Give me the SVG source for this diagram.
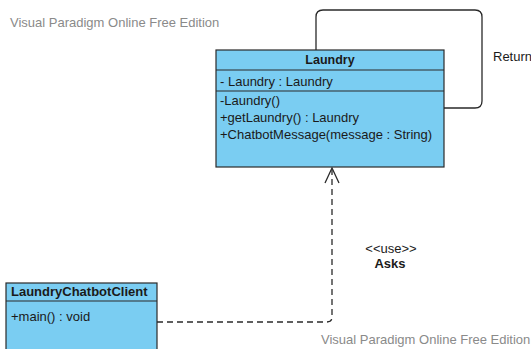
<svg xmlns="http://www.w3.org/2000/svg" width="531" height="349" viewBox="0 0 531 349">
<style>
text{font-family:"Liberation Sans",Arial,sans-serif;font-size:13px;fill:#1a1a1a}
.box{fill:#7acdf2;stroke:#2a2a2a;stroke-width:1.2}
.sep{stroke:#2a2a2a;stroke-width:1.2}
.title{font-weight:bold;text-anchor:middle;font-size:12.5px}
.wm{fill:#8a8a8a;font-size:13px}
.conn{fill:none;stroke:#2a2a2a;stroke-width:1.3}
.dash{stroke-dasharray:6,4}
</style>
<rect width="531" height="349" fill="#ffffff"/>
<text class="wm" x="10" y="27">Visual Paradigm Online Free Edition</text>
<text class="wm" x="321" y="344">Visual Paradigm Online Free Edition</text>
<g id="connectors">
<path class="conn" d="M316,50 V17 Q316,10 323,10 H475 Q482,10 482,17 V101 Q482,108 475,108 H444"/>
<text x="493" y="61">Return</text>
<path class="conn dash" d="M157,322 H327 Q332,322 332,317 V170"/>
<polyline class="conn" points="325,183 332,168 339,183"/>
<text x="391" y="253" text-anchor="middle" font-size="9px">&lt;&lt;use&gt;&gt;</text>
<text x="390" y="268" text-anchor="middle" font-size="10px" font-weight="bold">Asks</text>
</g>
<g id="laundry">
<rect class="box" x="216" y="50" width="228" height="117"/>
<line class="sep" x1="216" y1="70" x2="444" y2="70"/>
<line class="sep" x1="216" y1="91" x2="444" y2="91"/>
<text class="title" x="330" y="64">Laundry</text>
<text x="220" y="86">- Laundry : Laundry</text>
<text x="220" y="105">-Laundry()</text>
<text x="220" y="122">+getLaundry() : Laundry</text>
<text x="220" y="139">+ChatbotMessage(message : String)</text>
</g>
<g id="client">
<rect class="box" x="6" y="283" width="151" height="80"/>
<line class="sep" x1="6" y1="301" x2="157" y2="301"/>
<text x="11" y="296" font-weight="bold" font-size="12px">LaundryChatbotClient</text>
<text x="11" y="321">+main() : void</text>
</g>
</svg>
